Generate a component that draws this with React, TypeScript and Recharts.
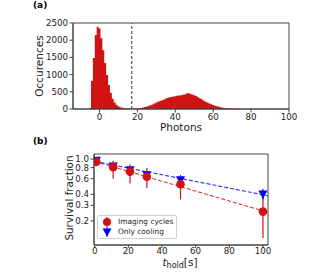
import React from 'react';
import {
  XAxis, YAxis, ReferenceLine, ReferenceArea, Label,
  ComposedChart, Area, Scatter, Line, ErrorBar,
} from 'recharts';

// (a) photon histogram (bin centres, 1 photon wide)
const photons = [
  -6, -5, -4, -3, -2, -1, 0, 1, 2, 3, 4, 5, 6, 7, 8, 9, 10, 11, 12, 13, 14, 15, 16,
  17, 18, 19, 20, 21, 22, 23, 24, 25, 26, 27, 28, 29, 30, 31, 32, 33, 34, 35, 36,
  37, 38, 39, 40, 41, 42, 43, 44, 45, 46, 47, 48, 49, 50, 51, 52, 53, 54, 55, 56,
  57, 58, 59, 60, 61, 62, 63, 64, 65, 66, 67, 68, 69, 70, 71, 72, 73, 74, 75, 76, 77, 78,
];
const counts = [
  0, 30, 820, 1480, 2150, 2390, 2340, 2060, 1710, 1340, 990, 700, 470, 300, 190, 120, 80, 52, 34, 22, 14, 9, 5,
  3, 5, 8, 14, 22, 31, 42, 56, 72, 91, 112, 134, 160, 186, 208, 236, 258, 279, 302, 318,
  338, 352, 366, 372, 384, 396, 401, 412, 420, 448, 466, 438, 424, 402, 378, 342, 312, 281, 246, 214,
  186, 158, 136, 114, 96, 78, 63, 50, 38, 30, 22, 16, 12, 9, 7, 5, 4, 3, 2, 1, 1, 0,
];
const threshold = 17;
const photonTicks = [0, 20, 40, 60, 80, 100];
const countTicks = [0, 500, 1000, 1500, 2000, 2500];

// (b) survival vs hold time
const holdTimes = [1, 11, 21, 31, 51, 100];
const imaging = [0.93, 0.81, 0.72, 0.63, 0.52, 0.255];
const imagingLow = [0.88, 0.6, 0.53, 0.47, 0.35, 0.128];
const imagingHigh = [0.98, 0.95, 0.87, 0.79, 0.66, 0.4];
const cooling = [0.96, 0.83, 0.75, 0.66, 0.58, 0.4];
const coolingLow = [0.93, 0.78, 0.7, 0.62, 0.53, 0.35];
const coolingHigh = [0.99, 0.87, 0.8, 0.71, 0.64, 0.46];
const fitTimes = [0, 103];
const imagingFit = [0.94, 0.25];
const coolingFit = [0.94, 0.385];
const timeTicks = [0, 20, 40, 60, 80, 100];
const survivalTicks = [0.2, 0.3, 0.4, 0.6, 0.8, 1.0];

const histData = photons.map((p, i) => ({ p, n: counts[i] }));
const imagingData = holdTimes.map((t, i) => ({
  t, v: imaging[i], err: [imaging[i] - imagingLow[i], imagingHigh[i] - imaging[i]],
}));
const coolingData = holdTimes.map((t, i) => ({
  t, v: cooling[i], err: [cooling[i] - coolingLow[i], coolingHigh[i] - cooling[i]],
}));
const imagingFitData = fitTimes.map((t, i) => ({ t, v: imagingFit[i] }));
const coolingFitData = fitTimes.map((t, i) => ({ t, v: coolingFit[i] }));

const RED = '#d01212';
const BLUE = '#0000ff';
const FONT = 'DejaVu Sans';
const tickStyle = { fontSize: 8.7, fill: '#222', fontFamily: FONT };
const axisColor = '#444';

const RedDot = (props: any) => <circle cx={props.cx} cy={props.cy} r={4.3} fill={RED} />;
const BlueTri = (props: any) => {
  const { cx, cy } = props;
  return <path d={`M${cx - 4.6},${cy - 3.8}L${cx + 4.6},${cy - 3.8}L${cx},${cy + 4.6}Z`} fill={BLUE} />;
};

export default function App() {
  return (
    <div style={{ position: 'fixed', left: 0, top: 0, width: 333, height: 275, background: '#fff', fontFamily: FONT }}>
      <div style={{ position: 'absolute', left: 33, top: 0, fontSize: 9, fontWeight: 'bold' }}>(a)</div>
      <div style={{ position: 'absolute', left: 33, top: 136, fontSize: 9, fontWeight: 'bold' }}>(b)</div>

      <div style={{ position: 'absolute', left: 0, top: 0 }}>
        <ComposedChart width={300} height={140} data={histData} margin={{ top: 23, right: 11, bottom: 0, left: 0 }}>
          <XAxis dataKey="p" type="number" domain={[-14, 100]} ticks={photonTicks} height={31} interval={0}
            tick={tickStyle} tickSize={3.5} tickMargin={1.5} stroke={axisColor} allowDataOverflow>
            <Label content={() => (
              <text x={181} y={131} textAnchor="middle" fontSize={10.5} fontFamily={FONT} fill="#222">Photons</text>
            )} />
          </XAxis>
          <YAxis type="number" domain={[0, 2500]} ticks={countTicks} width={73} interval={0}
            tick={tickStyle} tickSize={3.5} tickMargin={1.5} stroke={axisColor}>
            <Label content={() => (
              <text x={43} y={66} transform="rotate(-90 43 66)" textAnchor="middle" fontSize={10.5} fontFamily={FONT} fill="#222">Occurences</text>
            )} />
          </YAxis>
          <Area dataKey="n" type="step" fill={RED} fillOpacity={1} stroke="none" dot={false} activeDot={false}
            isAnimationActive={false} />
          <ReferenceLine x={threshold} stroke="#444" strokeDasharray="3 2" strokeWidth={1.1} />
          <ReferenceArea x1={-14} x2={100} y1={0} y2={2500} fill="none" stroke={axisColor} strokeWidth={1} />
        </ComposedChart>
      </div>

      <div style={{ position: 'absolute', left: 0, top: 140 }}>
        <ComposedChart width={300} height={135} margin={{ top: 14, right: 32, bottom: 0, left: 0 }}>
          <XAxis dataKey="t" type="number" domain={[-0.4, 103]} ticks={timeTicks} height={30} interval={0}
            tick={tickStyle} tickSize={3} tickMargin={0} stroke={axisColor} allowDataOverflow>
            <Label content={() => (
              <text x={180} y={126} textAnchor="middle" fontSize={10.5} fontFamily={FONT} fill="#222">
                <tspan fontStyle="italic">t</tspan>
                <tspan fontSize={8} dy={2}>hold</tspan>
                <tspan dy={-2}>[s]</tspan>
              </text>
            )} />
          </XAxis>
          <YAxis dataKey="v" type="number" scale="log" domain={[0.107, 1.14]} ticks={survivalTicks} width={94}
            interval={0} tickFormatter={(v: number) => v.toFixed(1)}
            tick={tickStyle} tickSize={3.5} tickMargin={1.5} stroke={axisColor} allowDataOverflow>
            <Label content={() => (
              <text x={73} y={58} transform="rotate(-90 73 58)" textAnchor="middle" fontSize={10.4} fontFamily={FONT} fill="#222">Survival fraction</text>
            )} />
          </YAxis>
          <Line data={imagingFitData} dataKey="v" stroke="#e03a34" strokeDasharray="4 2" strokeWidth={1.1}
            dot={false} isAnimationActive={false} />
          <Line data={coolingFitData} dataKey="v" stroke="#2233ff" strokeDasharray="4 2" strokeWidth={1.1}
            dot={false} isAnimationActive={false} />
          <Scatter data={coolingData} dataKey="v" shape={BlueTri} isAnimationActive={false}>
            <ErrorBar dataKey="err" direction="y" width={0} stroke={BLUE} strokeWidth={1.2} />
          </Scatter>
          <Scatter data={imagingData} dataKey="v" shape={RedDot} isAnimationActive={false}>
            <ErrorBar dataKey="err" direction="y" width={0} stroke={RED} strokeWidth={1.2} />
          </Scatter>
          <ReferenceArea x1={-0.4} x2={103} y1={0.107} y2={1.14} fill="none" stroke={axisColor} strokeWidth={1} />
        </ComposedChart>
      </div>

      <div style={{
        position: 'absolute', left: 97, top: 215, width: 80, height: 24, boxSizing: 'border-box',
        border: '1px solid #d0d0d0', borderRadius: 2, background: 'rgba(255,255,255,0.85)',
        fontSize: 7.4, color: '#222', lineHeight: '10px', paddingTop: 1, whiteSpace: 'nowrap',
      }}>
        <div style={{ display: 'flex', alignItems: 'center', height: 10 }}>
          <svg width={16} height={10} style={{ flexShrink: 0 }}><line x1={9} y1={0} x2={9} y2={10} stroke={RED} /><circle cx={9} cy={5} r={4} fill={RED} /></svg>
          <span style={{ marginLeft: 4 }}>Imaging cycles</span>
        </div>
        <div style={{ display: 'flex', alignItems: 'center', height: 10 }}>
          <svg width={16} height={10} style={{ flexShrink: 0 }}><line x1={9} y1={0} x2={9} y2={10} stroke={BLUE} /><path d="M4.5,1.5L13.5,1.5L9,9.5Z" fill={BLUE} /></svg>
          <span style={{ marginLeft: 4 }}>Only cooling</span>
        </div>
      </div>
    </div>
  );
}
